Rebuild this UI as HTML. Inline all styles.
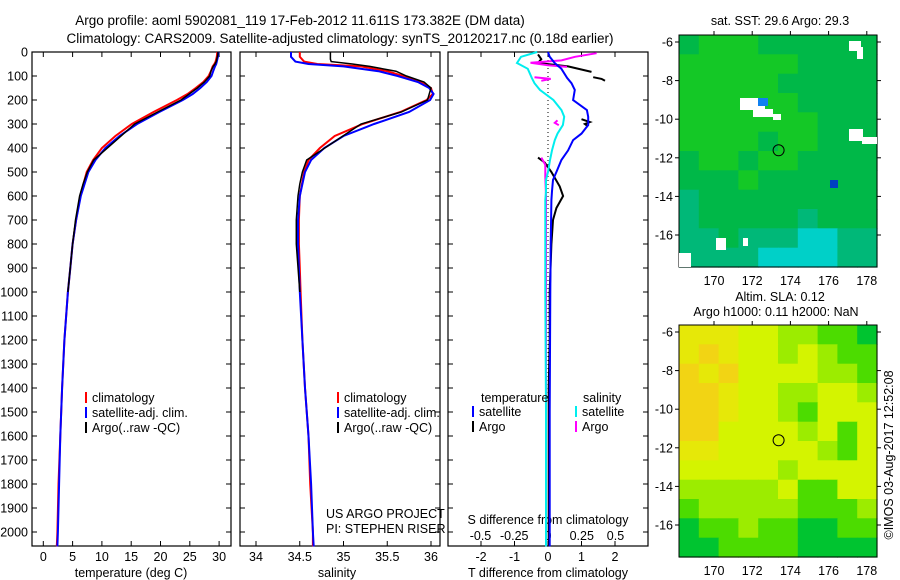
<!DOCTYPE html>
<html><head><meta charset="utf-8">
<style>
body{margin:0;background:#fff;}
svg{display:block;font-family:"Liberation Sans",sans-serif;}
text{font-size:12.5px;fill:#000;}
</style></head>
<body>
<svg id="fig" width="900" height="580" viewBox="0 0 900 580" xmlns="http://www.w3.org/2000/svg">
<text x="300" y="25" text-anchor="middle" style="font-size:13.5px">Argo profile: aoml 5902081_119 17-Feb-2012 11.611S 173.382E (DM data)</text>
<text x="340" y="43" text-anchor="middle" style="font-size:13.5px">Climatology: CARS2009. Satellite-adjusted climatology: synTS_20120217.nc (0.18d earlier)</text>
<g id="g"></g>
</svg>
<script>
// ---- data ----
const depthLevels=[0,20,40,50,60,80,100,125,150,175,200,250,300,350,400,450,500,600,700,800,900,1000,1200,1400,1600,1800,2000,2060];
const tempClim=[29.7,29.6,29.4,29.2,28.9,28.6,28.2,27.3,26,24.6,22.8,18.8,15.1,12.3,10,8.5,7.4,6.3,5.6,5,4.6,4.2,3.6,3.2,2.9,2.6,2.4,2.3];
const tempSat=[29.9,29.8,29.6,29.5,29.3,29,28.7,27.9,26.8,25.5,23.8,19.8,16,13,10.6,8.9,7.7,6.4,5.6,5,4.6,4.2,3.6,3.2,2.9,2.7,2.5,2.4];
const salClim=[34.5,34.5,34.55,34.7,35.2,35.5,35.68,35.88,36.0,36.02,35.95,35.65,35.22,34.9,34.73,34.6,34.55,34.5,34.49,34.49,34.5,34.51,34.53,34.56,34.6,34.62,34.65,34.65];
const salSat=[34.4,34.4,34.45,34.6,35.0,35.4,35.62,35.85,35.98,36.03,35.99,35.75,35.35,35.0,34.78,34.63,34.56,34.5,34.48,34.48,34.49,34.5,34.53,34.56,34.6,34.63,34.65,34.66];
const argoDepth=[0,10,20,30,40,50,60,80,100,125,150,200,250,300,450,500,550,600,700,800,1000];
const argoTemp=[29.8,29.8,29.7,29.6,29.5,29.3,29.0,28.6,28.4,27.5,26.3,23.5,19.5,15.6,8.6,7.5,6.8,6.2,5.5,5.0,4.2];
const argoSal=[34.85,34.85,34.85,34.85,34.86,35.1,35.3,35.6,35.72,35.92,36.0,35.96,35.66,35.2,34.58,34.53,34.5,34.48,34.46,34.46,34.5];
const diffDepth=[0,20,46,70,108,130,158,200,242,270,304,340,367,410,450,500,533,580,617,800,1000,1500,2000,2060];
const tDiffSat=[0,0.05,0.2,0.4,0.57,0.7,0.8,0.75,1.16,1.2,1.2,1.0,0.75,0.6,0.4,0.25,0.15,0.12,0.1,0.08,0.07,0.05,0.05,0.05];
const sDiffSat=[-0.08,-0.2,-0.23,-0.15,-0.12,-0.1,-0.06,0.04,0.1,0.12,0.11,0.07,0.05,0.03,0.015,0,-0.015,-0.015,-0.02,-0.02,-0.02,-0.015,-0.015,-0.015];
const tDiffArgoDepth=[10,30,46,60,83,null,105,112,120,null,280,292,300,310,null,440,460,500,560,600,650,700,800,1000,1200,1400,2060];
const tDiffArgo=[-0.3,-0.2,-0.3,0.6,1.3,null,1.35,1.6,1.7,null,1.0,1.25,1.1,1.2,null,-0.3,-0.1,0.1,0.35,0.45,0.25,0.15,0.1,0.05,0.05,0.02,0.02];
const sDiffArgoDepth=[5,20,35,45,55,62,null,105,112,120,null,285,295,305,null,440,470,520,600,800,1000,1500,2000,2060];
const sDiffArgo=[0.36,0.2,0.1,-0.13,0.0,0.14,null,-0.1,0.02,-0.05,null,0.07,0.05,0.08,null,-0.05,-0.02,-0.02,-0.015,-0.015,-0.015,-0.015,-0.015,-0.015];
const depthTicks=[0,100,200,300,400,500,600,700,800,900,1000,1100,1200,1300,1400,1500,1600,1700,1800,1900,2000];
const tempTicks=[0,5,10,15,20,25,30];
const salTicks=[34,34.5,35,35.5,36];
const tDiffTicks=[-2,-1,0,1,2];
const sDiffTicks=[-0.5,-0.25,0,0.25,0.5];
const lonTicks=[170,172,174,176,178];
const latTicks=[-6,-8,-10,-12,-14,-16];
const sstGrid=["gGGGgggggg","GGGGGGgggg","GGGGGggggg","GGGGGGgggg","GGGGGGGggg","GGGGgGGggg","gGGgGGgggg","gggGgggggg","tggggggggg","tgggggtggg","ttgtttcctt","ttttcccctt"];
const slaGrid=["oooYYLLGGg","oOoYYLYLGG","OoOYYYYLLG","OOoYYLLYYL","OOoYYLGYYY","OOYYYYLYGY","ooYYYYYLGY","YYYYYLYYYY","LLLLLYGGYY","GLLLLLGGGL","gGGLGGggGG","ggGGGGgggg"];
// ---- helpers ----
const NS="http://www.w3.org/2000/svg";const G=document.getElementById('g');
function mk(tag,at,parent){const e=document.createElementNS(NS,tag);for(const k in at)e.setAttribute(k,at[k]);(parent||G).appendChild(e);return e;}
const yD=p=>52+p*0.24;
const xT=t=>43.3+t*5.86;
const xS=s=>256+(s-34)*87.5;
const xTd=d=>548+d*33.5;
const xSd=s=>548+s*135;
function line(xs,ys,xf,color,w,name){let d='';let pen=false;for(let i=0;i<xs.length;i++){if(xs[i]===null||ys[i]===null){pen=false;continue;}d+=(pen?'L':'M')+xf(xs[i]).toFixed(1)+','+yD(ys[i]).toFixed(1);pen=true;}
 const p=mk('path',{d:d,fill:'none',stroke:color,'stroke-width':w});
 
 }
function panel(x0,x1,name){const r=mk('rect',{x:x0,y:52,width:x1-x0,height:494,fill:'none',stroke:'#000','stroke-width':1.2});
 
 
 depthTicks.forEach(p=>{mk('line',{x1:x0,x2:x0+5,y1:yD(p),y2:yD(p),stroke:'#000'});mk('line',{x1:x1,x2:x1-5,y1:yD(p),y2:yD(p),stroke:'#000'});});}
function txt(x,y,s,name,anchor,size){const t=mk('text',{x:x,y:y,'text-anchor':anchor||'middle'});if(size)t.style.fontSize=size+'px';t.textContent=s;
 
 return t;}
// panels
panel(32,231,'temperature-panel');panel(240,440,'salinity-panel');panel(448,648,'difference-panel');
depthTicks.forEach(p=>txt(28,yD(p)+4.5,String(p),'depth-tick-label','end'));
tempTicks.forEach(t=>{mk('line',{x1:xT(t),x2:xT(t),y1:546,y2:541,stroke:'#000'});mk('line',{x1:xT(t),x2:xT(t),y1:52,y2:57,stroke:'#000'});txt(xT(t),561,String(t),'temp-tick-label');});
salTicks.forEach(t=>{mk('line',{x1:xS(t),x2:xS(t),y1:546,y2:541,stroke:'#000'});mk('line',{x1:xS(t),x2:xS(t),y1:52,y2:57,stroke:'#000'});txt(xS(t),561,String(t),'salinity-tick-label');});
tDiffTicks.forEach(t=>{mk('line',{x1:xTd(t),x2:xTd(t),y1:546,y2:541,stroke:'#000'});mk('line',{x1:xTd(t),x2:xTd(t),y1:52,y2:57,stroke:'#000'});txt(xTd(t),561,String(t),'tdiff-tick-label');});
sDiffTicks.forEach(t=>txt(xSd(t),540,String(t),'sdiff-tick-label'));
txt(131,577,'temperature (deg C)','temp-axis-title');
txt(337,577,'salinity','salinity-axis-title');
txt(548,577,'T difference from climatology','tdiff-axis-title');
txt(548,524,'S difference from climatology','sdiff-axis-title');
txt(326,518,'US ARGO PROJECT','project-label','start');
txt(326,533,'PI: STEPHEN RISER','pi-label','start');
// zero dotted line
mk('line',{x1:548,x2:548,y1:60,y2:400,stroke:'#000','stroke-dasharray':'1,3'});
// series
line(tempClim,depthLevels,xT,'#f00',2,'temp-climatology-line');
line(tempSat,depthLevels,xT,'#00f',2,'temp-satellite-line');
line(argoTemp,argoDepth,xT,'#000',1.5,'temp-argo-line');
line(salClim,depthLevels,xS,'#f00',2,'sal-climatology-line');
line(salSat,depthLevels,xS,'#00f',2,'sal-satellite-line');
line(argoSal,argoDepth,xS,'#000',1.5,'sal-argo-line');
line(tDiffArgo,tDiffArgoDepth,xTd,'#000',2,'tdiff-argo-line');
line(sDiffArgo,sDiffArgoDepth,xSd,'#f0f',2,'sdiff-argo-line');
line(tDiffSat,diffDepth,xTd,'#00f',2,'tdiff-satellite-line');
line(sDiffSat,diffDepth,xSd,'#0ee',2,'sdiff-satellite-line');
// legends
function leg(x,y,c,s,name){mk('line',{x1:x,x2:x,y1:y-10,y2:y+1,stroke:c,'stroke-width':2});txt(x+6,y,s,name,'start');}
[[0,'#f00','climatology'],[1,'#00f','satellite-adj. clim.'],[2,'#000','Argo(..raw -QC)']].forEach(a=>{leg(86,402+a[0]*15,a[1],a[2],'temp-legend-entry');leg(338,402+a[0]*15,a[1],a[2],'sal-legend-entry');});
txt(481,402,'temperature','legend-temperature-heading','start');txt(583,402,'salinity','legend-salinity-heading','start');
leg(473,416,'#00f','satellite','legend-t-satellite');leg(473,431,'#000','Argo','legend-t-argo');
leg(576,416,'#0ee','satellite','legend-s-satellite');leg(576,431,'#f0f','Argo','legend-s-argo');
// maps
const sstCol={G:'#14c826',g:'#00b848',t:'#00b878',c:'#00d0c8'};
const slaCol={Y:'#d4f400',O:'#f2d414',o:'#e6e808',L:'#9cec00',G:'#4cdc00',g:'#00c430'};
const xL=l=>714+(l-170)*19.1;
function map(y0,grid,cols,name,title1,title2){
 const x0=679,w=198,h=232,cw=w/10,ch=h/12;
 grid.forEach((row,r)=>{for(let c=0;c<row.length;c++){const e=mk('rect',{x:(x0+c*cw).toFixed(1),y:(y0+r*ch).toFixed(1),width:cw+0.6,height:ch+0.6,fill:cols[row[c]]});
  
  }});
 const f=mk('rect',{x:x0,y:y0,width:w,height:h,fill:'none',stroke:'#000'});
 
 
 lonTicks.forEach(l=>{mk('line',{x1:xL(l),x2:xL(l),y1:y0,y2:y0-4,stroke:'#000'});txt(xL(l),y0+h+18,String(l),name+'-lon-label');});
 latTicks.forEach(l=>{const y=y0+7+(-6-l)*19.3;mk('line',{x1:x0,x2:x0-4,y1:y,y2:y,stroke:'#000'});mk('line',{x1:x0+w,x2:x0+w+4,y1:y,y2:y,stroke:'#000'});txt(673,y+4.5,String(l),name+'-lat-label','end');});
 const cc=mk('circle',{cx:xL(173.382),cy:y0+7+(11.611-6)*19.3,r:5.5,fill:'none',stroke:'#000'});
 
 
 if(title1)txt(780,y0-(title2?24:10),title1,name+'-title');
 if(title2)txt(776,y0-9,title2,name+'-subtitle');
}
map(35,sstGrid,sstCol,'sst-map','sat. SST: 29.6 Argo: 29.3');
[[740,98,25,12],[753,109,20,8],[773,114,8,6],[849,41,12,10],[857,47,6,12],[849,129,14,12],[862,137,15,7],[716,238,10,12],[743,238,5,8],[679,253,12,14]].forEach(a=>mk('rect',{x:a[0],y:a[1],width:a[2],height:a[3],fill:'#fff'}));
mk('rect',{x:758,y:98,width:10,height:8,fill:'#1080f0'});mk('rect',{x:830,y:180,width:8,height:8,fill:'#0040c0'});
map(325,slaGrid,slaCol,'sla-map','Altim. SLA: 0.12','Argo h1000: 0.11 h2000: NaN');
const cp=txt(0,0,'©IMOS 03-Aug-2017 12:52:08','timestamp-label');
cp.setAttribute('transform','translate(893,455) rotate(-90)');
</script>
</body></html>
